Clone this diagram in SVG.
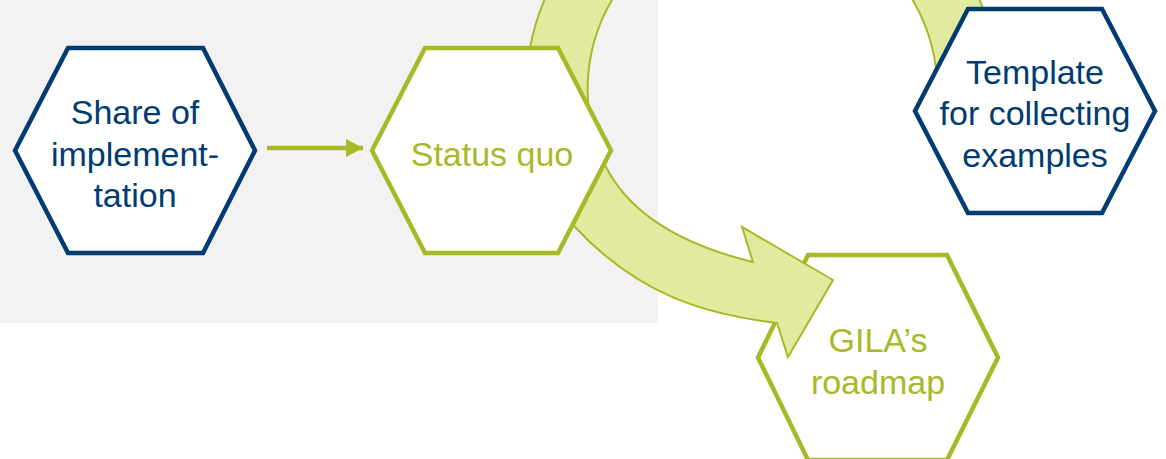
<svg xmlns="http://www.w3.org/2000/svg" width="1166" height="459" viewBox="0 0 1166 459">
<defs>
<style>
.hex{fill:#ffffff;stroke-width:4.5;stroke-linejoin:miter}
.navy{stroke:#003B71}
.green{stroke:#A8B928}
.t{font-family:"Liberation Sans",Arial,sans-serif;font-size:34px;text-anchor:middle}
.tn{fill:#003B71}
.tg{fill:#A8B928}
</style>
<marker id="ah" markerUnits="userSpaceOnUse" markerWidth="18" markerHeight="18" viewBox="0 0 16 17" refX="16" refY="8.5" orient="auto">
<path d="M0,0 L16,8.5 L0,17 Z" fill="#A8B928"/>
</marker>
</defs>
<rect id="background" x="0" y="0" width="658" height="323" fill="#F2F2F2"/>
<g id="node-gila">
<polygon class="hex green" points="758,357.5 808,255 947,255 998,357.5 947,460 808,460"/>
<text class="t tg" x="878" y="352">GILA’s</text>
<text class="t tg" x="878" y="393.5">roadmap</text>
</g>
<g id="connectors">
<path id="cycle-arrow" fill="#E2EA9F" stroke="#A8B928" stroke-width="2" stroke-linejoin="miter" d="M 998,90 A 236 236 0 0 0 530,48 C 524,80 547.8,197.8 575,227 C 639.6,296.4 707.7,314.6 777,323 L 788,357 L 833,280 L 742,227 L 753,262 C 690,246.7 631.4,218.8 605,165 A 175 175 0 0 1 612,0 A 175 175 0 0 1 937,100 Z"/>
<line id="share-to-status" x1="267" y1="148" x2="363" y2="148" stroke="#A8B928" stroke-width="4.5" marker-end="url(#ah)"/>
</g>
<g id="node-status">
<polygon class="hex green" points="372,150.5 425,48 558,48 611,150.5 558,253 425,253"/>
<text class="t tg" x="492" y="165.5">Status quo</text>
</g>
<g id="node-template">
<polygon class="hex navy" points="915,111 968,9 1102,9 1155,111 1102,213 968,213"/>
<text class="t tn" x="1035" y="83.5">Template</text>
<text class="t tn" x="1035" y="125">for collecting</text>
<text class="t tn" x="1035" y="166.5">examples</text>
</g>
<g id="node-share">
<polygon class="hex navy" points="15,150.5 68,48 203,48 255,150.5 203,253 68,253"/>
<text class="t tn" x="135" y="124">Share of</text>
<text class="t tn" x="135" y="165.5">implement-</text>
<text class="t tn" x="135" y="207">tation</text>
</g>
</svg>
